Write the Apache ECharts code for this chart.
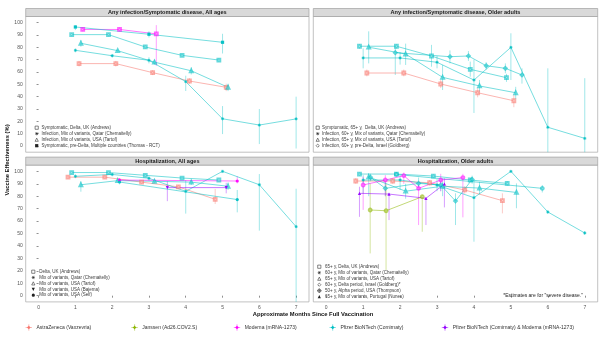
<!DOCTYPE html>
<html>
<head>
<meta charset="utf-8">
<script src="https://cdn.jsdelivr.net/npm/echarts@6/dist/echarts.min.js"></script>
<style>
html,body{margin:0;padding:0;background:#fff}
#chart{width:604px;height:338px}
</style>
</head>
<body>
<div id="chart"></div>
<script>
// ---------- axis ticks ----------
const monthTicks = [0, 1, 2, 3, 4, 5, 6, 7];
const veTicks = [0, 10, 20, 30, 40, 50, 60, 70, 80, 90, 100];

// ---------- facet titles ----------
const panelTitles = [
  'Any infection/Symptomatic disease, All ages',
  'Any infection/Symptomatic disease, Older adults',
  'Hospitalization, All ages',
  'Hospitalization, Older adults'
];

// ---------- vaccines ----------
const vaccineNames = [
  'AstraZeneca (Vaxzevria)',
  'Janssen (Ad26.COV2.S)',
  'Moderna (mRNA-1273)',
  'Pfizer BioNTech (Comirnaty)',
  'Pfizer BioNTech (Comirnaty) & Moderna (mRNA-1273)'
];

// ---------- estimates: [months since vaccination, VE %, lower CI, upper CI] ----------
// Any infection / symptomatic disease, all ages
const saAndrewsAZ = [[1.1, 66.8, 64.5, 69], [2.1, 66.8, 64.5, 69], [3.1, 59.5, 57.5, 61.5], [4.1, 52.7, 50.5, 55], [5.1, 47.6, 44.5, 50.5]];
const saAndrewsPfizer = [[0.9, 90.3, 89, 91.5], [1.9, 90.3, 89, 91.5], [2.9, 80.3, 79, 81.5], [3.9, 73.5, 72.5, 74.5], [4.9, 69.7, 68.5, 71]];
const saAndrewsModerna = [[1.2, 94.5, 93, 96], [2.2, 94.5, 93, 96], [3.2, 90.9, 65, 98]];
const saTartofPfizer = [[1.15, 83.3, 80.5, 86], [2.15, 77.3, 76, 78.5], [3.15, 68, 66, 70], [4.15, 61, 58, 64], [5.15, 47.6, 44.5, 50.5]];
const saChemaitellyPfizer = [[1.0, 77.6, 76, 79], [2.0, 73.2, 72, 74.5], [3.0, 69.5, 67, 72], [4.0, 52.2, 44.6, 57], [5.0, 22.1, 9.7, 32.4], [6.0, 17, 1.6, 30], [7.0, 22, -2, 40]];
const saThomasPfizer = [[1.0, 96.5, 94, 98], [3.0, 90.6, 88, 93], [5.0, 84.1, 75, 91]];

// Any infection / symptomatic disease, older adults
const soAndrewsAZ = [[1.1, 59.2, 56.5, 62], [2.1, 59.2, 56.5, 62], [3.1, 50.3, 47, 53.5], [4.1, 43.2, 39.5, 47], [5.08, 36.7, 31.5, 41.5]];
const soAndrewsPfizer = [[0.9, 80.9, 79, 82.5], [1.9, 80.9, 79, 82.5], [2.85, 73, 64.3, 82], [3.9, 62.2, 56.2, 68.4], [4.88, 55.4, 52, 58.5]];
const soChemaitellyPfizer = [[1.0, 71.4, 63, 79.2], [2.0, 71.4, 66, 76], [3.0, 67.9, 63, 73], [4.0, 53.5, 26.8, 70], [5.0, 80, 53.5, 91.4], [6.0, 15.2, -5, 63], [7.0, 6.2, -5, 55]];
const soTartofPfizer = [[1.15, 80.1, 67, 93], [2.15, 74.6, 65.7, 83], [3.15, 55.7, 45.4, 65.7], [4.15, 48.7, 44, 53.5], [5.13, 43.2, 38, 48]];
const soGoldbergPfizer = [[1.87, 75.7, 57.6, 81.3], [3.35, 72.4, 67, 77.5], [3.85, 73, 69, 77], [4.33, 65.1, 62, 68], [4.85, 63, 59, 67], [5.3, 57.6, 50.6, 63]];

// Hospitalization, all ages
const haAndrewsAZ = [[0.8, 95.3, 94, 96.5], [1.8, 95.3, 94, 96.5], [2.8, 91.3, 90, 92.5], [3.8, 87.5, 86, 89], [4.8, 77.5, 73.7, 85.8]];
const haAndrewsPfizer = [[0.9, 99, 98.3, 99.5], [1.9, 99, 98.3, 99.5], [2.9, 96.8, 96, 97.5], [3.9, 94.6, 93.8, 95.4], [4.9, 93, 92, 94]];
const haChemaitellyPfizer = [[1.0, 96, 94.5, 97.5], [2.0, 97.5, 96, 98.5], [3.0, 94.4, 92.5, 96], [4.0, 83.9, 66, 93], [5.0, 100, 99, 100], [6.0, 89.2, 52.3, 97.8], [7.0, 55.5, -5, 86]];
const haTartofPfizer = [[1.15, 89.2, 83.6, 92], [2.15, 92.5, 91, 94], [3.15, 92, 90.5, 93.5], [4.15, 91.3, 89, 93], [5.15, 88, 85, 91]];
const haBajemaMix = [[3.5, 86.9, 76, 92], [5.1, 86.9, 82.3, 90.8]];
const haSelfModerna = [[2.2, 93, 91.5, 94.5], [5.4, 92.2, 90.3, 96]];
const haSelfPfizer = [[2.2, 91.4, 89.5, 93.5], [5.4, 77.3, 67, 85]];

// Hospitalization, older adults
const hoAndrewsAZ = [[0.8, 92.2, 90, 94.5], [1.8, 92.2, 90, 94.5], [2.8, 90.8, 88.5, 93], [3.75, 85, 82, 88], [4.77, 76.4, 66.2, 82.3]];
const hoAndrewsPfizer = [[0.9, 97.8, 96.5, 99], [1.9, 97.8, 96.5, 99], [2.9, 96.2, 95, 97.5], [3.9, 93, 91.5, 94.5], [4.9, 90.3, 88.5, 92]];
const hoChemaitellyPfizer = [[1.0, 93, 82, 97], [2.0, 93, 85, 97], [3.0, 89, 84, 94], [4.0, 78.8, 43.4, 93], [5.0, 100, 99, 100], [6.0, 67.3, 66, 68.5], [7.0, 50.4, 49, 52]];
const hoTartofPfizer = [[1.15, 95.5, 80, 98.5], [2.15, 84, 78, 90], [3.15, 88, 80, 92], [4.15, 86.5, 81.5, 91.5], [5.15, 83, 70.3, 90.3]];
const hoGoldbergPfizer = [[1.2, 95.2, 92, 98], [1.6, 86.3, 80, 92], [2.5, 90.3, 85, 95], [3.1, 89, 84, 94], [3.5, 76.1, 56.8, 82.3], [3.95, 93.5, 90, 96.5]];
const hoThompsonPfizer = [[1.9, 97.5, 96, 99], [5.85, 86.3, 83, 89]];
const hoThompsonModerna = [[1.0, 89, 69, 95.7], [1.6, 93, 80, 97], [2.1, 96.5, 90, 99], [2.5, 86.3, 56.8, 91.6], [3.1, 93, 84, 98], [3.7, 95, 63, 98]];
const hoThompsonJanssen = [[1.19, 68.9, 34, 90.3], [1.62, 68.3, 20.7, 90.3], [2.6, 79.6, 51.4, 81]];
const hoNunesMix = [[0.9, 82.3, 63.4, 87.6], [1.7, 81.7, 60.8, 82.3], [2.7, 78.3, 56.8, 76.9], [3.2, 89.8, 71, 94.4]];

// ---------- per-panel legend labels ----------
const legendTL = ['Symptomatic, Delta, UK (Andrews)', 'Infection, Mix of variants, Qatar (Chemaitelly)', 'Infection, Mix of variants, USA (Tartof)', 'Symptomatic, pre-Delta, Multiple countries (Thomas - RCT)'];
const legendTR = ['Symptomatic, 65+ y,  Delta, UK (Andrews)', 'Infection, 60+ y, Mix of variants, Qatar (Chemaitelly)', 'Infection, 65+ y, Mix of variants, USA (Tartof)', 'Infection, 60+ y, pre-Delta, Israel (Goldberg)'];
const legendBL = ['Delta, UK (Andrews)', 'Mix of variants, Qatar (Chemaitelly)', 'Mix of variants, USA (Tartof)', 'Mix of variants, USA (Bajema)', 'Mix of variants, USA (Self)'];
const legendBR = ['65+ y, Delta, UK (Andrews)', '60+ y, Mix of variants, Qatar (Chemaitelly)', '65+ y, Mix of variants, USA (Tartof)', '60+ y, Delta period, Israel (Goldberg)*', '50+ y, Alpha period, USA (Thompson)', '65+ y, Mix of variants, Portugal (Nunes)'];
const footnote = '*Estimates are for "severe disease."';

// ---------- styling ----------
const vaccineColors = ['#F8766D', '#8DB600', '#FF00FF', '#00BFC4', '#9400FF'];
const FONT = '"Liberation Sans", Arial, sans-serif';
const ASTERISK = 'path://M-0.12,-1L0.12,-1L0.12,1L-0.12,1Z M-1,-0.12L1,-0.12L1,0.12L-1,0.12Z M-0.78,-0.62L-0.62,-0.78L0.78,0.62L0.62,0.78Z M0.62,-0.78L0.78,-0.62L-0.62,0.78L-0.78,0.62Z';
const markerSymbols = {
  square: 'emptyRect', asterisk: ASTERISK, triangle: 'emptyTriangle', diamond: 'emptyDiamond',
  fsquare: 'rect', fcircle: 'circle', invtri: 'triangle', ftri: 'triangle', circlecross: 'emptyCircle'
};

const seriesList = [
  { panel: 0, vac: 0, mark: 'square', data: saAndrewsAZ },
  { panel: 0, vac: 3, mark: 'square', data: saAndrewsPfizer },
  { panel: 0, vac: 2, mark: 'square', data: saAndrewsModerna },
  { panel: 0, vac: 3, mark: 'triangle', data: saTartofPfizer },
  { panel: 0, vac: 3, mark: 'asterisk', data: saChemaitellyPfizer },
  { panel: 0, vac: 3, mark: 'fsquare', data: saThomasPfizer },
  { panel: 1, vac: 0, mark: 'square', data: soAndrewsAZ },
  { panel: 1, vac: 3, mark: 'square', data: soAndrewsPfizer },
  { panel: 1, vac: 3, mark: 'asterisk', data: soChemaitellyPfizer },
  { panel: 1, vac: 3, mark: 'triangle', data: soTartofPfizer },
  { panel: 1, vac: 3, mark: 'diamond', data: soGoldbergPfizer },
  { panel: 2, vac: 0, mark: 'square', data: haAndrewsAZ },
  { panel: 2, vac: 3, mark: 'square', data: haAndrewsPfizer },
  { panel: 2, vac: 3, mark: 'asterisk', data: haChemaitellyPfizer },
  { panel: 2, vac: 3, mark: 'triangle', data: haTartofPfizer },
  { panel: 2, vac: 4, mark: 'invtri', data: haBajemaMix },
  { panel: 2, vac: 2, mark: 'fcircle', data: haSelfModerna },
  { panel: 2, vac: 3, mark: 'fcircle', data: haSelfPfizer },
  { panel: 3, vac: 0, mark: 'square', data: hoAndrewsAZ },
  { panel: 3, vac: 3, mark: 'square', data: hoAndrewsPfizer },
  { panel: 3, vac: 3, mark: 'asterisk', data: hoChemaitellyPfizer },
  { panel: 3, vac: 3, mark: 'triangle', data: hoTartofPfizer },
  { panel: 3, vac: 3, mark: 'diamond', data: hoGoldbergPfizer },
  { panel: 3, vac: 3, mark: 'circlecross', data: hoThompsonPfizer },
  { panel: 3, vac: 2, mark: 'circlecross', data: hoThompsonModerna },
  { panel: 3, vac: 1, mark: 'circlecross', data: hoThompsonJanssen },
  { panel: 3, vac: 4, mark: 'ftri', data: hoNunesMix }
];

// ---------- facet layout ----------
const panels = [
  { left: 25.7, top: 16.5, width: 283.3, height: 135.7 },
  { left: 313.3, top: 16.5, width: 284.4, height: 135.7 },
  { left: 25.7, top: 165.1, width: 283.3, height: 136.8 },
  { left: 313.3, top: 165.1, width: 284.4, height: 136.8 }
];
const STRIP_H = 8;

const chart = echarts.init(document.getElementById('chart'), null, { renderer: 'canvas' });

const grids = panels.map(p => ({
  left: p.left, top: p.top, width: p.width, height: p.height,
  show: true, borderColor: '#a8a8a8', borderWidth: 0.7, backgroundColor: '#fff',
  containLabel: false, outerBoundsMode: 'none'
}));

const xAxes = panels.map((p, i) => ({
  type: 'value', gridIndex: i, min: -0.35, max: 7.35,
  axisLine: { show: false }, splitLine: { show: false },
  axisTick: { show: i >= 2, customValues: monthTicks, length: 2, lineStyle: { color: '#444', width: 0.6 } },
  axisLabel: { show: i >= 2, customValues: monthTicks, fontSize: 5, color: '#555', margin: 3, fontFamily: FONT }
}));

const yAxes = panels.map((p, i) => ({
  type: 'value', gridIndex: i, min: -5, max: 105,
  axisLine: { show: false }, splitLine: { show: false },
  axisTick: { show: i % 2 === 0, customValues: veTicks, length: 2, lineStyle: { color: '#444', width: 0.6 } },
  axisLabel: { show: i % 2 === 0, customValues: veTicks, fontSize: 5, color: '#555', margin: 3, fontFamily: FONT }
}));

const series = [];
seriesList.forEach(s => {
  const color = vaccineColors[s.vac];
  // confidence interval whiskers
  series.push({
    type: 'custom', xAxisIndex: s.panel, yAxisIndex: s.panel, z: 1, silent: true,
    data: s.data,
    encode: { x: 0, y: [2, 3] },
    renderItem: (params, api) => {
      const x = api.value(0);
      const a = api.coord([x, api.value(3)]);
      const b = api.coord([x, api.value(2)]);
      return { type: 'line', shape: { x1: a[0], y1: a[1], x2: b[0], y2: b[1] },
        style: { stroke: color, lineWidth: 0.9, opacity: 0.42 } };
    }
  });
  const filled = ['fsquare', 'fcircle', 'invtri', 'ftri'].includes(s.mark);
  series.push({
    type: 'line', xAxisIndex: s.panel, yAxisIndex: s.panel, z: 2, silent: true,
    data: s.data.map(d => [d[0], d[1]]),
    symbol: markerSymbols[s.mark],
    symbolRotate: s.mark === 'invtri' ? 180 : 0,
    symbolSize: filled ? 3.2 : 2.8,
    showSymbol: true,
    lineStyle: { color: color, width: 0.9, opacity: 0.6 },
    itemStyle: { color: color, borderColor: color, borderWidth: filled ? 0 : 0.5, opacity: filled ? 0.95 : 0.6 },
    animation: false
  });
});

// ---------- graphic decorations: strips, titles, legends ----------
const graphics = [];
panels.forEach((p, i) => {
  graphics.push({ type: 'rect', shape: { x: p.left, y: p.top - STRIP_H, width: p.width, height: STRIP_H },
    style: { fill: '#D9D9D9', stroke: '#a0a0a0', lineWidth: 0.7 }, z: 10 });
  graphics.push({ type: 'text', x: p.left + p.width / 2, y: p.top - STRIP_H / 2,
    style: { text: panelTitles[i], font: 'bold 5.6px ' + FONT, fill: '#1a1a1a', align: 'center', verticalAlign: 'middle' }, z: 11 });
});

function glyph(kind, cx, cy, color) {
  const s = 1.6, w = 0.55;
  const st = { stroke: color, fill: 'none', lineWidth: w };
  const sf = { fill: color, stroke: 'none' };
  switch (kind) {
    case 'square': return [{ type: 'rect', shape: { x: cx - s, y: cy - s, width: 2 * s, height: 2 * s }, style: st }];
    case 'fsquare': return [{ type: 'rect', shape: { x: cx - s, y: cy - s, width: 2 * s, height: 2 * s }, style: sf }];
    case 'fcircle': return [{ type: 'circle', shape: { cx, cy, r: s }, style: sf }];
    case 'triangle': return [{ type: 'polygon', shape: { points: [[cx, cy - s], [cx + s, cy + s], [cx - s, cy + s]] }, style: st }];
    case 'ftri': return [{ type: 'polygon', shape: { points: [[cx, cy - s], [cx + s, cy + s], [cx - s, cy + s]] }, style: sf }];
    case 'invtri': return [{ type: 'polygon', shape: { points: [[cx - s, cy - s], [cx + s, cy - s], [cx, cy + s]] }, style: sf }];
    case 'diamond': return [{ type: 'polygon', shape: { points: [[cx, cy - s], [cx + s, cy], [cx, cy + s], [cx - s, cy]] }, style: st }];
    case 'circlecross': return [
      { type: 'circle', shape: { cx, cy, r: s }, style: st },
      { type: 'line', shape: { x1: cx - s - 0.6, y1: cy, x2: cx + s + 0.6, y2: cy }, style: st },
      { type: 'line', shape: { x1: cx, y1: cy - s - 0.6, x2: cx, y2: cy + s + 0.6 }, style: st }];
    case 'asterisk': return [
      { type: 'line', shape: { x1: cx - s, y1: cy, x2: cx + s, y2: cy }, style: st },
      { type: 'line', shape: { x1: cx, y1: cy - s, x2: cx, y2: cy + s }, style: st },
      { type: 'line', shape: { x1: cx - s * 0.75, y1: cy - s * 0.75, x2: cx + s * 0.75, y2: cy + s * 0.75 }, style: st },
      { type: 'line', shape: { x1: cx - s * 0.75, y1: cy + s * 0.75, x2: cx + s * 0.75, y2: cy - s * 0.75 }, style: st }];
  }
  return [];
}

function panelLegend(labels, kinds, symX, textX, ys) {
  labels.forEach((t, k) => {
    glyph(kinds[k], symX, ys[k], '#222').forEach(g => graphics.push(Object.assign(g, { z: 12 })));
    graphics.push({ type: 'text', x: textX, y: ys[k],
      style: { text: t, font: '4.5px ' + FONT, fill: '#3a3a3a', align: 'left', verticalAlign: 'middle' }, z: 12 });
  });
}
panelLegend(legendTL, ['square', 'asterisk', 'triangle', 'fsquare'], 36.7, 41.5, [127.7, 133.7, 139.7, 145.7]);
panelLegend(legendTR, ['square', 'asterisk', 'triangle', 'diamond'], 317.7, 322, [127.7, 133.7, 139.7, 145.7]);
panelLegend(legendBL, ['square', 'asterisk', 'triangle', 'invtri', 'fcircle'], 33.3, 39.3, [271.7, 277.5, 283.4, 289.3, 295.2]);
panelLegend(legendBR, ['square', 'asterisk', 'triangle', 'diamond', 'circlecross', 'ftri'], 319.3, 325, [266.7, 272.7, 278.7, 284.7, 290.7, 296.7]);

graphics.push({ type: 'text', x: 583, y: 295.7,
  style: { text: footnote, font: '5px ' + FONT, fill: '#222', align: 'right', verticalAlign: 'middle' }, z: 12 });

// axis titles
graphics.push({ type: 'text', x: 313, y: 314.5,
  style: { text: 'Approximate Months Since Full Vaccination', font: 'bold 5.8px ' + FONT, fill: '#111', align: 'center', verticalAlign: 'middle' } });
graphics.push({ type: 'text', x: 7, y: 160, rotation: Math.PI / 2,
  style: { text: 'Vaccine Effectiveness (%)', font: 'bold 5.8px ' + FONT, fill: '#111', align: 'center', verticalAlign: 'middle' } });

// vaccine legend
const legendMarkX = [28.8, 134.6, 237, 332.7, 445];
vaccineNames.forEach((name, k) => {
  const cx = legendMarkX[k], cy = 327.5, c = vaccineColors[k];
  graphics.push({ type: 'line', shape: { x1: cx - 3.2, y1: cy, x2: cx + 3.2, y2: cy }, style: { stroke: c, lineWidth: 0.8, opacity: 0.6 } });
  graphics.push({ type: 'line', shape: { x1: cx, y1: cy - 3.2, x2: cx, y2: cy + 3.2 }, style: { stroke: c, lineWidth: 0.8, opacity: 0.6 } });
  graphics.push({ type: 'polygon', shape: { points: [[cx, cy - 1.8], [cx + 1.8, cy], [cx, cy + 1.8], [cx - 1.8, cy]] }, style: { fill: c } });
  graphics.push({ type: 'text', x: cx + 7.7, y: cy,
    style: { text: name, font: '5px ' + FONT, fill: '#333', align: 'left', verticalAlign: 'middle' } });
});

chart.setOption({
  animation: false,
  backgroundColor: '#fff',
  grid: grids,
  xAxis: xAxes,
  yAxis: yAxes,
  series: series,
  graphic: { elements: graphics }
});
</script>
</body>
</html>
